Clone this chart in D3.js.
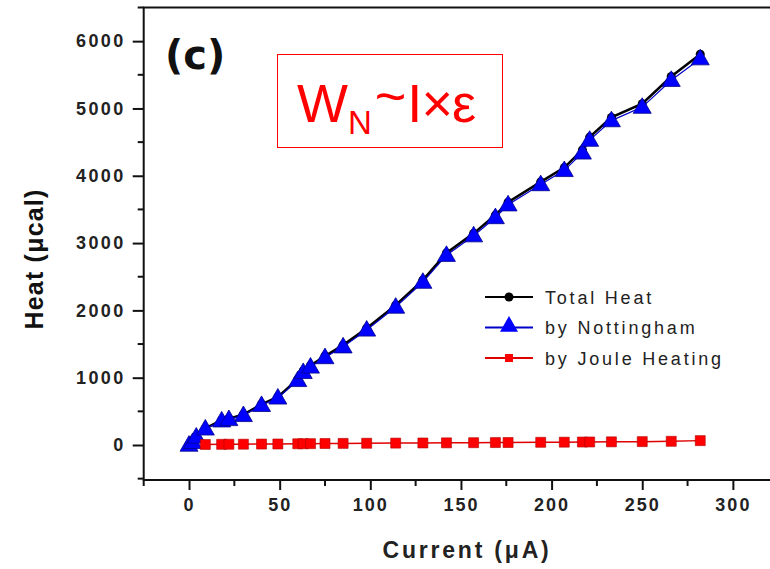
<!DOCTYPE html>
<html>
<head>
<meta charset="utf-8">
<script src="https://cdn.jsdelivr.net/npm/d3@7"></script>
<style>
  body { margin: 0; background: #fff; }
  svg { display: block; }
</style>
</head>
<body>
<svg id="chart" width="770" height="569"></svg>
<script>
// data
const current = [0, 2, 4, 9, 18, 22, 30, 40, 49, 60, 63, 67, 75, 85, 98, 114, 129, 142, 157, 169, 176, 194, 207, 217, 221, 233, 250, 266, 282];
const nottingham = [0, 40, 120, 240, 360, 380, 440, 590, 700, 960, 1080, 1160, 1300, 1460, 1710, 2050, 2420, 2820, 3110, 3380, 3570, 3870, 4080, 4340, 4530, 4820, 5020, 5420, 5740];
const joule = [0, 1, 3, 8, 10, 11, 12, 14, 15, 18, 19, 20, 22, 24, 26, 28, 30, 32, 34, 36, 37, 40, 42, 44, 45, 47, 50, 55, 65];
const totalHeat = [0, 41, 123, 248, 370, 391, 452, 604, 715, 978, 1099, 1180, 1322, 1484, 1736, 2078, 2450, 2852, 3144, 3416, 3607, 3910, 4122, 4384, 4575, 4867, 5070, 5475, 5805];
const xTicks = [0, 50, 100, 150, 200, 250, 300];
const yTicks = [0, 1000, 2000, 3000, 4000, 5000, 6000];
const legendLabels = ["Total Heat", "by Nottingham", "by Joule Heating"];

const svg = d3.select("#chart");

const x = d3.scaleLinear().domain([-25, 325]).range([143.7, 778.2]);
const y = d3.scaleLinear().domain([-520, 6500]).range([480, 7.5]);

const font = "'Liberation Sans', Arial, sans-serif";

// frame (top + left + bottom; right side runs off the picture)
svg.append("path")
  .attr("d", `M${x.range()[1]},${y.range()[1]} H${x.range()[0]} V${y.range()[0]} H${x.range()[1]}`)
  .attr("fill", "none")
  .attr("stroke", "#111")
  .attr("stroke-width", 2);

// x axis ticks
const xMinor = d3.range(-25, 326, 25).filter(v => v % 50 !== 0);
const gx = svg.append("g").attr("transform", `translate(0,${y.range()[0]})`);
gx.call(d3.axisBottom(x).tickValues(xTicks).tickSize(10).tickPadding(8).tickFormat(d3.format("d")));
gx.select(".domain").remove();
gx.selectAll(".tick line").attr("stroke", "#111").attr("stroke-width", 2);
gx.selectAll(".tick text")
  .attr("font-family", font).attr("font-weight", "bold").attr("font-size", 18)
  .attr("letter-spacing", 2).attr("fill", "#222");
gx.selectAll(".minor").data(xMinor).enter().append("line")
  .attr("class", "minor")
  .attr("x1", d => x(d)).attr("x2", d => x(d))
  .attr("y1", 0).attr("y2", 6)
  .attr("stroke", "#111").attr("stroke-width", 2);

// y axis ticks
const yMinor = d3.range(-500, 6501, 500).filter(v => v % 1000 !== 0);
const gy = svg.append("g").attr("transform", `translate(${x.range()[0]},0)`);
gy.call(d3.axisLeft(y).tickValues(yTicks).tickSize(11).tickPadding(7).tickFormat(d3.format("d")));
gy.select(".domain").remove();
gy.selectAll(".tick line").attr("stroke", "#111").attr("stroke-width", 2);
gy.selectAll(".tick text")
  .attr("font-family", font).attr("font-weight", "bold").attr("font-size", 18)
  .attr("letter-spacing", 2.4).attr("fill", "#222");
gy.selectAll(".minor").data(yMinor).enter().append("line")
  .attr("class", "minor")
  .attr("y1", d => y(d)).attr("y2", d => y(d))
  .attr("x1", 0).attr("x2", -6)
  .attr("stroke", "#111").attr("stroke-width", 2);

// axis titles
svg.append("text")
  .attr("x", 467).attr("y", 558)
  .attr("text-anchor", "middle")
  .attr("font-family", font).attr("font-weight", "bold").attr("font-size", 23)
  .attr("letter-spacing", 2.8).attr("fill", "#222")
  .text("Current (μA)");

svg.append("text")
  .attr("transform", "translate(43,259) rotate(-90)")
  .attr("text-anchor", "middle")
  .attr("font-family", font).attr("font-weight", "bold").attr("font-size", 25)
  .attr("letter-spacing", 1.2)
  .attr("fill", "#111")
  .text("Heat (μcal)");

// panel letter
svg.append("text")
  .attr("x", 165).attr("y", 69)
  .attr("font-family", "'DejaVu Sans', sans-serif").attr("font-weight", "bold").attr("font-size", 40)
  .attr("fill", "#111")
  .text("(c)");

// red formula box
svg.append("rect")
  .attr("x", 277.5).attr("y", 54.5).attr("width", 225).attr("height", 93)
  .attr("fill", "none").attr("stroke", "#f00").attr("stroke-width", 1);
const formula = svg.append("text")
  .attr("x", 297).attr("y", 122)
  .attr("font-family", font).attr("font-size", 54)
  .attr("fill", "#f00");
formula.append("tspan").text("W");
formula.append("tspan").attr("font-size", 33).attr("dy", 12).text("N");
formula.append("tspan").attr("dy", -19).attr("dx", 3).text("~");
formula.append("tspan").attr("dy", 7).attr("dx", 1).text("I");
formula.append("tspan").attr("dx", -1).text("×");
formula.append("tspan").attr("dx", -1).text("ε");

// series
const idx = d3.range(current.length);
const line = vals => d3.line().x(i => x(current[i])).y(i => y(vals[i]))(idx);
const tri = d3.symbol().type(d3.symbolTriangle).size(140);
const sq = d3.symbol().type(d3.symbolSquare).size(100);

// Total heat
svg.append("path").attr("d", line(totalHeat))
  .attr("fill", "none").attr("stroke", "#000").attr("stroke-width", 2.5);
svg.append("g").selectAll("circle").data(idx).enter().append("circle")
  .attr("cx", i => x(current[i])).attr("cy", i => y(totalHeat[i]))
  .attr("r", 4.5).attr("fill", "#000");

// Nottingham
svg.append("path").attr("d", line(nottingham))
  .attr("fill", "none").attr("stroke", "#0000c8").attr("stroke-width", 1.2);
svg.append("g").selectAll("path").data(idx).enter().append("path")
  .attr("d", tri)
  .attr("transform", i => `translate(${x(current[i])},${y(nottingham[i]) + 1})`)
  .attr("fill", "#0000ff").attr("stroke", "#00008a").attr("stroke-width", 0.8);

// Joule heating
const jIdx = idx.filter(i => current[i] >= 9);
svg.append("path").attr("d", d3.line().x(i => x(current[i])).y(i => y(joule[i]))(jIdx))
  .attr("fill", "none").attr("stroke", "#e00000").attr("stroke-width", 1.5);
svg.append("g").selectAll("path").data(jIdx).enter().append("path")
  .attr("d", sq)
  .attr("transform", i => `translate(${x(current[i])},${y(joule[i])})`)
  .attr("fill", "#ff0000").attr("stroke", "#b00000").attr("stroke-width", 0.6);

// legend
const legendColors = ["#000", "#0000c8", "#e00000"];
const lg = svg.append("g");
legendLabels.forEach((label, k) => {
  const ly = 297 + k * 30.5;
  lg.append("line").attr("x1", 485).attr("x2", 533).attr("y1", ly).attr("y2", ly)
    .attr("stroke", legendColors[k]).attr("stroke-width", 2);
  if (k === 0) {
    lg.append("circle").attr("cx", 509).attr("cy", ly).attr("r", 4.5).attr("fill", "#000");
  } else if (k === 1) {
    lg.append("path").attr("d", tri).attr("transform", `translate(509,${ly - 1})`).attr("fill", "#0000ff");
  } else {
    lg.append("path").attr("d", d3.symbol().type(d3.symbolSquare).size(64)).attr("transform", `translate(509,${ly})`).attr("fill", "#ff0000");
  }
  lg.append("text").attr("x", 545).attr("y", ly + 6.5)
    .attr("font-family", font).attr("font-size", 18).attr("letter-spacing", 2.8)
    .attr("fill", "#222").text(label);
});
</script>
</body>
</html>
